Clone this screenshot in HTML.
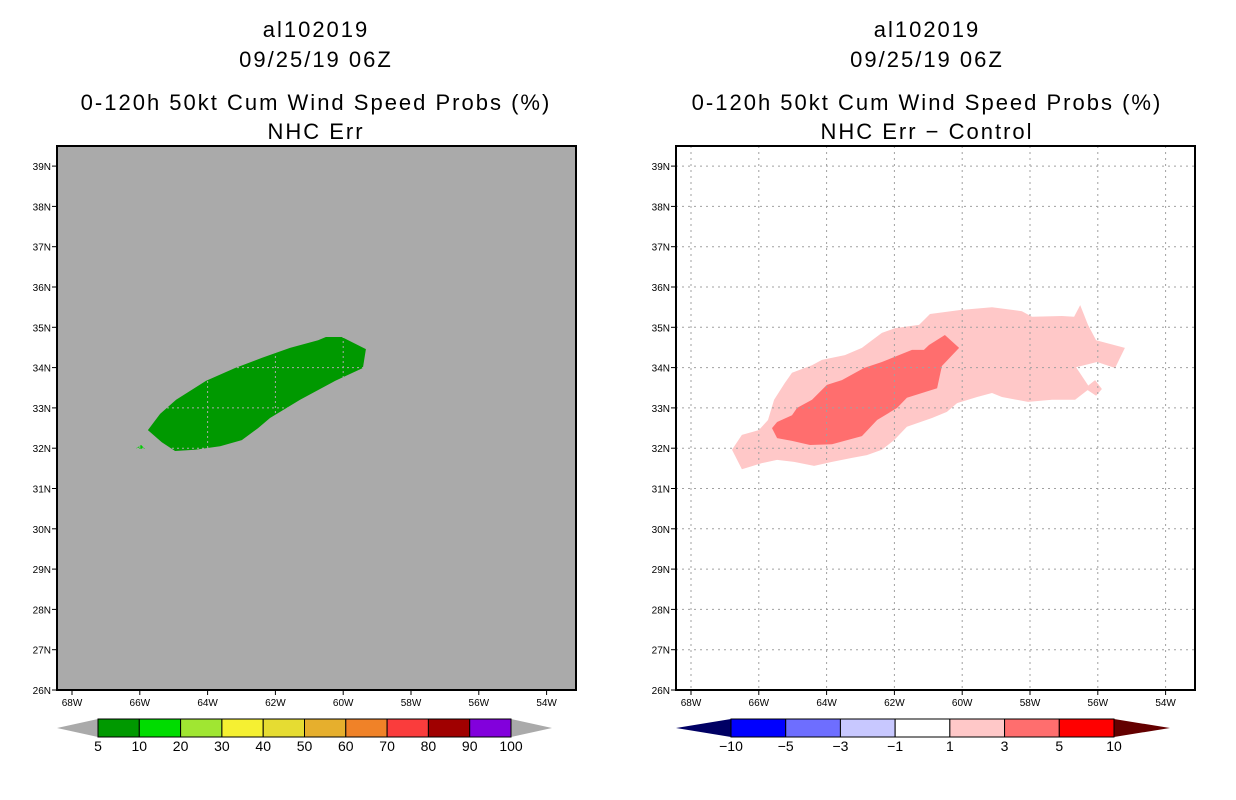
<!DOCTYPE html>
<html><head><meta charset="utf-8"><style>
html,body{margin:0;padding:0;background:#fff;width:1236px;height:800px;overflow:hidden}
svg{display:block}
text{font-family:"Liberation Sans",sans-serif}
</style></head><body>
<svg id="s" width="1236" height="800" viewBox="0 0 1236 800"></svg>
<script>
const lonTicks=[-68,-66,-64,-62,-60,-58,-56,-54];
const latTicks=[26,27,28,29,30,31,32,33,34,35,36,37,38,39];
const greenLon=[-65.76,-65.40,-64.93,-64.05,-63.19,-62.40,-61.57,-60.74,-60.51,-60.04,-59.33,-59.42,-60.24,-61.27,-62.16,-62.51,-62.99,-63.63,-64.37,-64.96,-65.35];
const greenLat=[32.45,32.85,33.20,33.67,33.99,34.24,34.49,34.68,34.76,34.76,34.46,33.99,33.67,33.20,32.75,32.50,32.20,32.05,31.96,31.93,32.15];
const greenSmallLon=[-66.11,-65.96,-65.85];
const greenSmallLat=[32.0,32.08,31.98];
const lightLon=[-66.79,-66.50,-66.0,-65.73,-65.55,-65.23,-65.02,-64.43,-64.14,-63.46,-62.96,-62.66,-62.37,-61.98,-61.27,-60.95,-60.06,-59.12,-58.24,-57.94,-57.06,-56.70,-56.52,-56.29,-56.05,-55.20,-55.49,-56.02,-56.64,-56.23,-56.67,-57.35,-58.06,-58.83,-59.12,-59.56,-60.15,-60.45,-60.89,-61.63,-62.01,-62.37,-62.81,-63.25,-63.84,-64.37,-64.96,-65.46,-65.91,-66.50];
const lightLat=[31.96,32.33,32.45,32.70,33.20,33.62,33.87,34.06,34.19,34.31,34.49,34.68,34.86,34.98,35.06,35.33,35.43,35.50,35.40,35.26,35.28,35.26,35.55,35.06,34.68,34.49,33.99,34.14,34.01,33.49,33.20,33.20,33.15,33.27,33.37,33.27,33.12,32.90,32.75,32.53,32.20,31.96,31.83,31.76,31.66,31.56,31.66,31.71,31.63,31.48];
const islandLon=[-56.38,-56.08,-55.88,-56.05];
const islandLat=[33.49,33.69,33.47,33.30];
const darkLon=[-65.61,-65.46,-65.02,-64.87,-64.43,-63.99,-63.55,-62.90,-62.37,-61.48,-61.13,-60.98,-60.51,-60.09,-60.60,-60.74,-61.63,-61.92,-62.51,-62.96,-63.84,-64.49,-65.02,-65.46];
const darkLat=[32.50,32.65,32.82,33.0,33.20,33.57,33.69,33.99,34.14,34.44,34.44,34.56,34.81,34.49,34.04,33.49,33.25,33.00,32.70,32.30,32.10,32.08,32.18,32.25];
const leftLevels=["5","10","20","30","40","50","60","70","80","90","100"];
const leftColors=["#009900","#00dc00","#a0e632","#f5f032","#e6dc32","#e6af2d","#f08228","#fa3c3c","#a00000","#8200dc"];
const rightLevels=["\u221210","\u22125","\u22123","\u22121","1","3","5","10"];
const rightColors=["#0000ff","#6e6eff","#c8c8ff","#ffffff","#ffc8c8","#ff6e6e","#ff0000"];

const S=document.getElementById('s');const NS='http://www.w3.org/2000/svg';
function mk(t,a,txt){const e=document.createElementNS(NS,t);for(const k in a)e.setAttribute(k,a[k]);if(txt!==undefined)e.textContent=txt;S.appendChild(e);return e;}
function panel(x0){
  const tick0=x0+15;
  const X=lon=>tick0+(lon+68)*33.9;
  const Y=lat=>690-(lat-26)*40.3;
  return {X,Y};
}
function poly(P,lons,lats,fill,name){
  const pts=lons.map((l,i)=>P.X(l).toFixed(1)+','+P.Y(lats[i]).toFixed(1)).join(' ');
  const e=mk('polygon',{points:pts,fill:fill});
  
  
}
function titles(cx,line4){
  const t=[["al102019",37],["09/25/19 06Z",67],["0-120h 50kt Cum Wind Speed Probs (%)",110],[line4,139]];
  t.forEach((r,i)=>{const e=mk('text',{x:cx,y:r[1],'font-size':22,'text-anchor':'middle',fill:'#000','letter-spacing':'2'},r[0]);
    
    });
}
function axes(x0,P,gridColor,dash){
  lonTicks.forEach(l=>{const x=P.X(l);
    const g=mk('line',{x1:x,y1:146,x2:x,y2:690,stroke:gridColor,'stroke-width':1,'stroke-dasharray':dash});
    
    mk('line',{x1:x,y1:690,x2:x,y2:695,stroke:'#000'});
    const t=mk('text',{x:x,y:706,'font-size':10,'text-anchor':'middle'},Math.abs(l)+'W');
    });
  latTicks.forEach(l=>{const y=P.Y(l);
    const g=mk('line',{x1:x0,y1:y,x2:x0+519,y2:y,stroke:gridColor,'stroke-width':1,'stroke-dasharray':dash});
    
    mk('line',{x1:x0-5,y1:y,x2:x0,y2:y,stroke:'#000'});
    const t=mk('text',{x:x0-6,y:y+4,'font-size':10,'text-anchor':'end'},l+'N');
    });
  const f=mk('rect',{x:x0,y:146,width:519,height:544,fill:'none',stroke:'#000','stroke-width':2});
  
}
function colorbar(tl,x0,x1,tr,colors,levels,lc,rc,name){
  const n=colors.length,w=(x1-x0)/n,yt=719,yb=737,ym=728;
  const a=mk('polygon',{points:`${tl},${ym} ${x0},${yt} ${x0},${yb}`,fill:lc});
  
  const b=mk('polygon',{points:`${tr},${ym} ${x1},${yt} ${x1},${yb}`,fill:rc});
  
  colors.forEach((c,i)=>{const r=mk('rect',{x:x0+i*w,y:yt,width:w,height:yb-yt,fill:c,stroke:'#000','stroke-width':1});
    });
  levels.forEach((s,i)=>{const t=mk('text',{x:x0+i*w,y:751,'font-size':14,'text-anchor':'middle'},s);
    });
}
// Left panel
const L=panel(57);
const bg=mk('rect',{x:57,y:146,width:519,height:544,fill:'#aaaaaa'});

poly(L,greenLon,greenLat,'#009900','prob-area-5-10');
poly(L,greenSmallLon,greenSmallLat,'#00cc00','prob-area-small');
axes(57,L,'#aaaaaa','2,3');
titles(316,'NHC Err');
colorbar(57,98,511,552,leftColors,leftLevels,'#aaaaaa','#aaaaaa','left-colorbar');
// Right panel
const R=panel(676);
poly(R,lightLon,lightLat,'#ffc8c8','diff-area-1-3');
poly(R,islandLon,islandLat,'#ffc8c8','diff-area-island');
poly(R,darkLon,darkLat,'#ff6e6e','diff-area-3-5');
axes(676,R,'#a0a0a0','2,4');
titles(927,'NHC Err \u2212 Control');
colorbar(676,731,1114,1170,rightColors,rightLevels,'#000064','#640000','right-colorbar');
</script>
</body></html>
